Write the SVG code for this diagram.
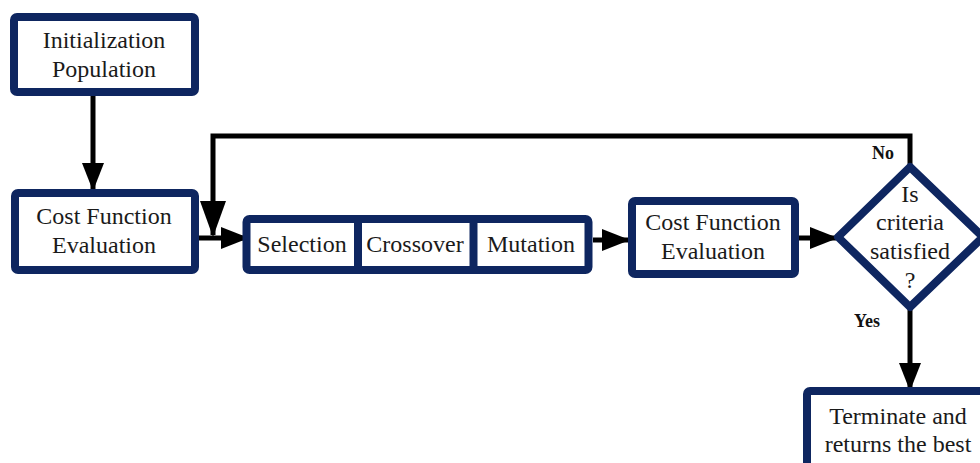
<svg xmlns="http://www.w3.org/2000/svg" width="980" height="463" viewBox="0 0 980 463">
<defs>
<style>
.box{fill:#fff;stroke:#0e2660;stroke-width:8;stroke-linejoin:round}
.t{font-size:24px;fill:#1a1a1a;text-anchor:middle}
.lbl{font-size:18px;font-weight:bold;fill:#111;text-anchor:middle}
.ln{fill:none;stroke:#000;stroke-width:5}
</style>
<marker id="ah" markerUnits="userSpaceOnUse" markerWidth="28" markerHeight="22" refX="26" refY="11" orient="auto" viewBox="0 0 28 22">
<polygon points="0,0 28,11 0,22" fill="#000"/>
</marker>
<marker id="ahb" markerUnits="userSpaceOnUse" markerWidth="36" markerHeight="26" refX="34" refY="13" orient="auto" viewBox="0 0 36 26">
<polygon points="0,0 36,13 0,26" fill="#000"/>
</marker>
</defs>
<rect width="980" height="463" fill="#fff"/>
<g font-family="'Liberation Serif', 'Times New Roman', serif">
<g id="connectors">
<line class="ln" x1="93" y1="96" x2="93" y2="189" marker-end="url(#ah)"/>
<line class="ln" x1="199" y1="238" x2="247" y2="238" marker-end="url(#ah)"/>
<polyline class="ln" points="910,168 910,136 213,136 213,235" marker-end="url(#ahb)"/>
<line class="ln" x1="593" y1="240" x2="628" y2="240" marker-end="url(#ah)"/>
<line class="ln" x1="799" y1="238" x2="836" y2="238" marker-end="url(#ah)"/>
<line class="ln" x1="910" y1="306" x2="910" y2="389" marker-end="url(#ah)"/>
<text class="lbl" x="883" y="159">No</text>
<text class="lbl" x="867" y="327">Yes</text>
</g>
<g id="init">
<rect class="box" x="14" y="17" width="181" height="75" rx="3"/>
<text class="t" x="104" y="48" font-size="25">Initialization</text>
<text class="t" x="104" y="77" font-size="25">Population</text>
</g>
<g id="cost1">
<rect class="box" x="15" y="193" width="180" height="77" rx="3"/>
<text class="t" x="104" y="224">Cost Function</text>
<text class="t" x="104" y="253">Evaluation</text>
</g>
<g id="ops">
<rect class="box" x="246.5" y="219" width="342" height="51" rx="3"/>
<line x1="358" y1="219" x2="358" y2="270" stroke="#0e2660" stroke-width="8"/>
<line x1="473.5" y1="219" x2="473.5" y2="270" stroke="#0e2660" stroke-width="8"/>
<text class="t" x="302" y="252">Selection</text>
<text class="t" x="415" y="252">Crossover</text>
<text class="t" x="531" y="252">Mutation</text>
</g>
<g id="cost2">
<rect class="box" x="632" y="201" width="163" height="73" rx="3"/>
<text class="t" x="713" y="230">Cost Function</text>
<text class="t" x="713" y="259">Evaluation</text>
</g>
<g id="decision">
<polygon class="box" points="910,167 983,237 910,307 838,237"/>
<text class="t" x="910" y="202">Is</text>
<text class="t" x="910" y="230">criteria</text>
<text class="t" x="910" y="259">satisfied</text>
<text class="t" x="910" y="288">?</text>
</g>
<g id="terminate">
<rect class="box" x="807" y="391" width="190" height="100" rx="3"/>
<text class="t" x="898" y="424">Terminate and</text>
<text class="t" x="898" y="452">returns the best</text>
</g>
</g>
</svg>
